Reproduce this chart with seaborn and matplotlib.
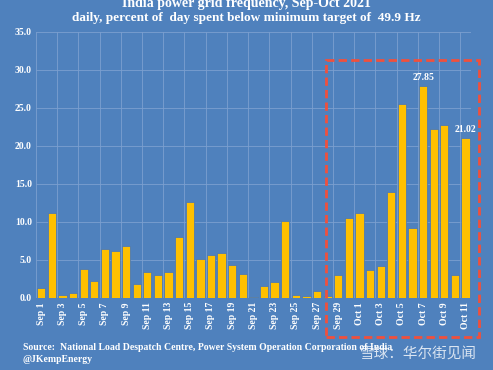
import matplotlib.pyplot as plt
import matplotlib.patches as patches
import numpy as np
import pandas as pd
import seaborn as sns

# daily share of the day below 49.9 Hz, Sep 1 - Oct 11 2021
days = [f"Sep {d}" for d in range(1, 31)] + [f"Oct {d}" for d in range(1, 12)]
pct_below = [1.35, 11.17, 0.43, 0.6, 3.74, 2.26, 6.39, 6.13, 6.78, 1.83,
             3.43, 2.96, 3.43, 7.96, 12.6, 5.13, 5.65, 5.91, 4.26, 3.17,
             0.05, 1.6, 2.09, 10.17, 0.39, 0.3, 0.91, 0.26, 3.04, 10.48,
             11.2, 3.6, 4.13, 13.9, 25.5, 9.17, 27.85, 22.2, 22.7, 2.96,
             21.02]
labelled_days = ["Oct 7", "Oct 11"]

bg = "#4f81bd"
grid_col = "#7c9fd0"
bar_col = "#ffc000"
serif = ["Liberation Serif", "DejaVu Serif"]

df = pd.DataFrame({"day": days, "pct": pct_below})

sns.set_style("white")
plt.rcParams['font.family'] = serif
plt.rcParams['font.weight'] = 'bold'

fig = plt.figure(figsize=(4.93, 3.70), dpi=100, facecolor=bg)
ax = fig.add_axes([0.073, 0.195, 0.882, 0.719], facecolor=bg)

sns.barplot(data=df, x="day", y="pct", order=days, color=bar_col,
            width=0.78, edgecolor="#3f73c0", linewidth=0.5, saturation=1, ax=ax)

ax.set_ylim(0, 35)
ax.set_xlim(-0.5, len(days) - 0.5)
ax.set_yticks(np.arange(0, 36, 5))
ax.set_yticklabels([f"{v:.1f}" for v in np.arange(0, 36, 5)])
ax.set_xticks(range(0, len(days), 2))
ax.set_xticklabels(days[::2], rotation=90)
ax.tick_params(axis="both", colors="white", labelsize=7, length=0, pad=3)
for lab in ax.get_xticklabels() + ax.get_yticklabels():
    lab.set_fontweight("bold")
ax.set_xlabel("")
ax.set_ylabel("")

# gridlines: horizontal every 5, vertical at category boundaries every 2 days
for v in np.arange(5, 36, 5):
    ax.axhline(v, color=grid_col, lw=0.6, zorder=0)
for b in np.arange(-0.5, len(days) - 1, 2):
    ax.axvline(b, color=grid_col, lw=0.6, zorder=0)
ax.set_axisbelow(True)
for s in ax.spines.values():
    s.set_visible(False)

for d in labelled_days:
    i = days.index(d)
    ax.text(i, pct_below[i] + 0.5, f"{pct_below[i]:.2f}", ha="center", va="bottom",
            color="white", fontsize=7, fontweight="bold")

# highlight box
fig.patches.append(patches.Rectangle((0.661, 0.089), 0.310, 0.749, transform=fig.transFigure,
                                     fill=False, edgecolor="#f0503c", lw=2,
                                     linestyle=(0, (3, 1.5))))

fig.text(0.5, 1 - 4 / 370, "India power grid frequency, Sep-Oct 2021", ha="center", va="center",
         color="white", fontsize=10, fontweight="bold")
fig.text(0.5, 1 - 18 / 370, "daily, percent of  day spent below minimum target of  49.9 Hz",
         ha="center", va="center", color="white", fontsize=9.5, fontweight="bold")
fig.text(0.046, 1 - 347 / 370,
         "Source:  National Load Despatch Centre, Power System Operation Corporation of India",
         ha="left", va="center", color="white", fontsize=7, fontweight="bold")
fig.text(0.046, 1 - 359 / 370, "@JKempEnergy", ha="left", va="center",
         color="white", fontsize=7, fontweight="bold")
fig.text(0.968, 1 - 354 / 370, "雪球：华尔街见闻", ha="right", va="center", color="white",
         alpha=0.8, fontsize=10.5, fontweight="light",
         family=["Noto Sans CJK SC", "DejaVu Sans"])

fig.savefig("out.png", dpi=100, facecolor=bg)
